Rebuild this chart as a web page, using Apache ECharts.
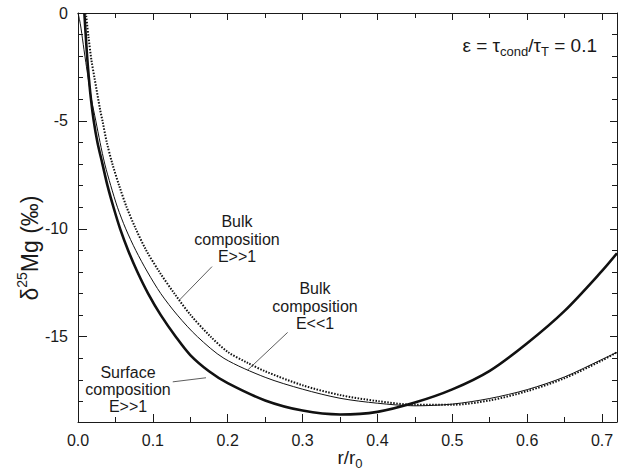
<!DOCTYPE html>
<html><head><meta charset="utf-8">
<script src="https://cdn.jsdelivr.net/npm/echarts@6/dist/echarts.min.js"></script>
<style>html,body{margin:0;padding:0;background:#fff}#c{width:627px;height:472px}</style>
</head><body><div id="c"></div>
<script>
// ---- data ----
var xMajor = [0, 0.1, 0.2, 0.3, 0.4, 0.5, 0.6, 0.7];
var xMinor = [0.05, 0.15, 0.25, 0.35, 0.45, 0.55, 0.65];
var yMajor = [0, -5, -10, -15];
var yMinor = [-1,-2,-3,-4,-6,-7,-8,-9,-11,-12,-13,-14,-16,-17,-18];

// Surface composition E>>1 (thick solid)
var surfR = [0.0085,0.011,0.0135,0.017,0.021,0.026,0.0327,0.0394,0.0474,0.0563,0.067,0.0794,0.0937,0.1106,0.1306,0.15,0.175,0.2,0.25,0.3,0.35,0.4,0.45,0.5,0.55,0.6,0.65,0.7,0.72];
var surfV = [0,-1.4,-2.6,-3.9,-5,-6,-7,-8,-9,-10,-11,-12,-13,-14,-15,-15.85,-16.6,-17.15,-17.95,-18.42,-18.6,-18.48,-18.05,-17.44,-16.58,-15.3,-13.8,-11.95,-11.13];

// Bulk composition E<<1 (thin solid)
var bulkLowR = [0,0.002,0.004,0.006,0.008,0.0105,0.0135,0.018,0.0238,0.0295,0.0358,0.0438,0.0527,0.0638,0.0772,0.0928,0.1106,0.1328,0.1596,0.195,0.25,0.3,0.35,0.4,0.45,0.5,0.55,0.6,0.65,0.7,0.72];
var bulkLowV = [0,-0.3,-0.7,-1.2,-1.7,-2.3,-3.0,-4.0,-5,-6,-7,-8,-9,-10,-11,-12,-13,-14,-15,-16,-16.88,-17.43,-17.85,-18.08,-18.2,-18.12,-17.86,-17.45,-16.86,-16.05,-15.72];

// Bulk composition E>>1 (dotted)
var bulkHighR = [0.0105,0.014,0.018,0.022,0.0296,0.0327,0.0385,0.046,0.055,0.065,0.0772,0.0912,0.1088,0.1288,0.1506,0.1773,0.2,0.226,0.25,0.3,0.35,0.4,0.45,0.5,0.55,0.6,0.65,0.7,0.72];
var bulkHighV = [0,-1.1,-2.2,-3.0,-4.49,-5,-6,-7,-8,-9,-10,-11,-12,-13,-14,-15,-15.7,-16.2,-16.6,-17.25,-17.7,-17.98,-18.15,-18.15,-17.95,-17.52,-16.92,-16.1,-15.72];

// annotation leader lines (data coordinates)
var leadBulkHighR = [0.179, 0.1355], leadBulkHighV = [-11.75, -13.3];
var leadBulkLowR = [0.28, 0.2267],  leadBulkLowV = [-14.8, -16.54];
var leadSurfR = [0.1266, 0.171],     leadSurfV = [-17.09, -16.9];

function pairs(a, b){ return a.map(function(v,i){ return [v, b[i]]; }); }

var FONT = '"Liberation Sans", Arial, Helvetica, sans-serif';
var INK = '#1a1a1a';

function ax(dim, pos, ticks, len, showLine, showLabel){
  return {type:'value', position:pos,
    min: dim === 'x' ? 0 : -18.95, max: dim === 'x' ? 0.72 : 0,
    axisLine:{show:showLine, onZero:false, lineStyle:{color:INK, width:1}},
    axisTick:{show:true, inside:true, length:len, customValues:ticks, lineStyle:{color:INK, width:1, type:'solid'}},
    axisLabel:{show:showLabel, customValues:ticks, margin:10, fontFamily:FONT, fontSize:16, color:INK,
      formatter: dim === 'x' ? function(v){ return Number(v).toFixed(1); } : function(v){ return String(Math.round(v)); }},
    splitLine:{show:false}};
}

function lineSeries(data, style, smooth){
  return {type:'line', xAxisIndex:0, yAxisIndex:0, symbol:'none', data:data, smooth:smooth, lineStyle:style};
}

var chart = echarts.init(document.getElementById('c'), null, {renderer:'svg'});
chart.setOption({
  animation:false,
  grid:{left:78, right:10, top:13, bottom:50},
  xAxis:[ax('x','bottom', xMajor, 8, true, true), ax('x','bottom', xMinor, 5, false, false),
         ax('x','top', xMajor, 7, true, false), ax('x','top', xMinor, 5, false, false)],
  yAxis:[ax('y','left', yMajor, 9, true, true), ax('y','left', yMinor, 5, false, false),
         ax('y','right', yMajor, 7, true, false), ax('y','right', yMinor, 5, false, false)],
  series:[
    lineSeries(pairs(surfR, surfV), {color:'#111', width:2.6}, 0.3),
    lineSeries(pairs(bulkLowR, bulkLowV), {color:'#111', width:1}, 0.3),
    lineSeries(pairs(bulkHighR, bulkHighV), {color:'#111', width:2, type:[1.5,1.5]}, 0.3),
    lineSeries(pairs(leadBulkHighR, leadBulkHighV), {color:'#333', width:0.8}, false),
    lineSeries(pairs(leadBulkLowR, leadBulkLowV), {color:'#333', width:0.8}, false),
    lineSeries(pairs(leadSurfR, leadSurfV), {color:'#333', width:0.8}, false)
  ],
  graphic:[
    {type:'text', x:237, y:239, style:{text:'Bulk\ncomposition\nE>>1', font:'16px '+FONT, fill:INK,
      align:'center', verticalAlign:'middle', lineHeight:17.5}},
    {type:'text', x:315, y:306, style:{text:'Bulk\ncomposition\nE<<1', font:'16px '+FONT, fill:INK,
      align:'center', verticalAlign:'middle', lineHeight:17.5}},
    {type:'text', x:128, y:389, style:{text:'Surface\ncomposition\nE>>1', font:'16px '+FONT, fill:INK,
      align:'center', verticalAlign:'middle', lineHeight:17}},
    {type:'text', x:597, y:45, style:{
      text:'{a|ε = τ}{s|cond}{a|/τ}{s|T}{a| = 0.1}', align:'right', verticalAlign:'middle',
      rich:{a:{fontFamily:FONT, fontSize:19, fill:INK, verticalAlign:'middle', lineHeight:26},
            s:{fontFamily:FONT, fontSize:13, fill:INK, verticalAlign:'bottom', lineHeight:26}}}},
    {type:'text', x:350, y:457, style:{
      text:'{a|r/r}{s|0}', align:'center', verticalAlign:'middle',
      rich:{a:{fontFamily:FONT, fontSize:19, fill:INK, verticalAlign:'middle', lineHeight:26},
            s:{fontFamily:FONT, fontSize:13, fill:INK, verticalAlign:'bottom', lineHeight:26}}}},
    {type:'text', x:30, y:248, rotation:Math.PI/2, style:{
      text:'{a|δ}{p|25}{a|Mg (‰)}', align:'center', verticalAlign:'middle',
      rich:{a:{fontFamily:FONT, fontSize:23, fill:INK, verticalAlign:'middle', lineHeight:30},
            p:{fontFamily:FONT, fontSize:14, fill:INK, verticalAlign:'top', lineHeight:30}}}}
  ]
});
</script>
</body></html>
